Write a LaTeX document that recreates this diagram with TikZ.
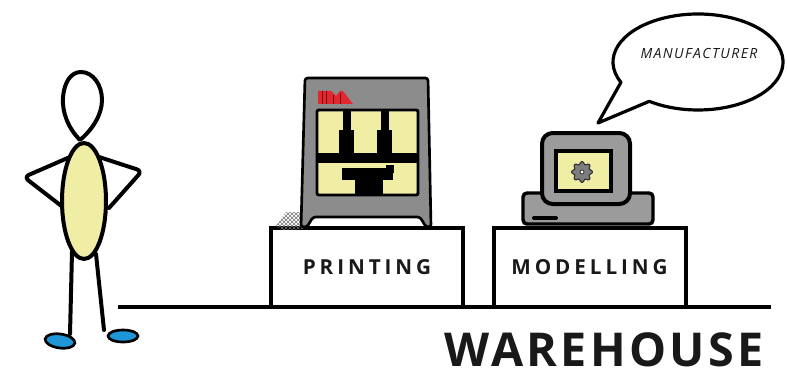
\documentclass[tikz,border=0pt]{standalone}
\usepackage{fontspec}
\setmainfont{Open Sans}
\newfontfamily\boxfont[LetterSpace=19]{Open Sans}
\newfontfamily\bigfont[LetterSpace=7]{Open Sans}
\newfontfamily\talkfont[LetterSpace=10]{Open Sans}
\usetikzlibrary{patterns,calc}

\definecolor{paleyellow}{RGB}{240,237,165}
\definecolor{printergrey}{RGB}{140,140,140}
\definecolor{monitorgrey}{RGB}{155,155,155}
\definecolor{gearfill}{RGB}{125,125,125}
\definecolor{logored}{RGB}{225,40,50}
\definecolor{shoeblue}{RGB}{30,150,215}
\definecolor{ink}{RGB}{25,25,25}

\tikzset{
  figline/.style={draw=black, line width=3pt, line cap=round, line join=round},
  standbox/.style={draw=black, line width=3pt, minimum width=144pt, minimum height=59pt,
    inner sep=0pt, font=\boxfont\bfseries\fontsize{15.5}{18}\selectfont, text=ink},
  bodyfill/.style={fill=printergrey, draw=black, line width=2pt, line join=round},
  partfill/.style={fill=black},
  floorline/.style={draw=black, line width=3pt},
}

\begin{document}
\begin{tikzpicture}[x=0.75pt, y=-0.75pt]
\useasboundingbox (0,0) rectangle (787,374);

% ---------- floor and label ----------
\coordinate (floorL) at (118,307);
\coordinate (floorR) at (771,307);
\node[standbox] (printing) at (367,267.5) {PRINTING};
\node[standbox] (modelling) at (589.5,267.5) {MODELLING};
\draw[floorline] (floorL) -- (floorR);
\node[anchor=base, font=\bigfont\bfseries\fontsize{35}{40}\selectfont, text=ink, inner sep=0pt]
  (warehouse) at (604,366) {WAREHOUSE};

% ---------- stick figure ----------
\draw[figline, rounded corners=4] (70,157) -- (24,177) -- (64,208);
\draw[figline, rounded corners=4] (99,157) -- (142,171) -- (109,208);
\draw[figline] (72,252) -- (70,334);
\draw[figline] (96,254) -- (104,330);
\filldraw[fill=shoeblue, draw=black, line width=2pt, rotate around={-8:(60,341)}] (60,341) ellipse [x radius=15, y radius=7];
\filldraw[fill=shoeblue, draw=black, line width=2pt] (123,336) ellipse [x radius=15, y radius=6];
\filldraw[fill=paleyellow, figline] (84,201) ellipse [x radius=22, y radius=58];
\draw[figline, fill=white] (80,140) .. controls (68,128) and (62,112) .. (63,98)
  .. controls (64,82) and (71,72) .. (81,72)
  .. controls (93,72) and (102,85) .. (102,100)
  .. controls (102,115) and (92,130) .. (80,140) -- cycle;

% ---------- 3D printer ----------
\fill[pattern=crosshatch, pattern color=black!55] (276,226) -- (286,212) -- (303,212) -- (303,229) -- (282,230) -- cycle;
\filldraw[bodyfill, rounded corners=2] (305,78) -- (428,78) -- (431,227) -- (426,227)
  -- (420,217) -- (313,217) -- (307,227) -- (301,227) -- cycle;
\filldraw[fill=paleyellow, draw=black, line width=2.2pt, rounded corners=1.5] (317,110) rectangle (418,195);
\fill[partfill] (343,110) rectangle (351,132);
\fill[partfill] (339,130) rectangle (354,155);
\fill[partfill] (381,110) rectangle (389,132);
\fill[partfill] (377,130) rectangle (392,155);
\fill[partfill] (317,153) rectangle (418,163);
\fill[partfill] (342,168) rectangle (393,180);
\fill[partfill] (386,165) rectangle (394,173);
\fill[partfill] (355,180) rectangle (383,195);
% maker logo
\fill[logored] (318,91) -- (331,91) -- (336,96) -- (340,91) -- (343,91) -- (353,104) -- (318,104) -- cycle;
\draw[red!50!black, line width=0.5pt] (322,91) -- (322,104) (326,91) -- (326,104) (333,95) -- (333,104) (340,93) -- (340,104);

% ---------- computer ----------
\filldraw[fill=monitorgrey, draw=black, line width=2.6pt, rounded corners=3] (523,193) rectangle (653,224);
\draw[black, line width=3pt, line cap=round] (534,218) -- (556,218);
\filldraw[fill=monitorgrey, draw=black, line width=3pt, rounded corners=8] (542,133) rectangle (630,204);
\filldraw[fill=paleyellow, draw=black, line width=3pt] (556,151) rectangle (611,191);
\begin{scope}[shift={(582,172)}]
  \filldraw[fill=gearfill, draw=black!80, line width=0.8pt, line join=round, rounded corners=0.8]
    (-13:8) \foreach \k in {0,45,...,315} { -- (\k-13:8) -- (\k-9:10.5) -- (\k+9:10.5) -- (\k+13:8) } -- cycle;
  \filldraw[fill=white, draw=black!80, line width=0.6pt] (0,0) circle [radius=2];
\end{scope}

% ---------- speech bubble ----------
\coordinate (tailtip) at (598,123);
\filldraw[fill=white, draw=black, line width=2.4pt, line join=round]
  (tailtip) -- ($(698,62)+(155:85 and 48)$) arc[start angle=155, end angle=485, x radius=85, y radius=48] -- cycle;
\node[font=\talkfont\itshape\fontsize{10.5}{12}\selectfont, text=ink, inner sep=0pt] (maker) at (699,54) {MANUFACTURER};
\end{tikzpicture}
\end{document}
